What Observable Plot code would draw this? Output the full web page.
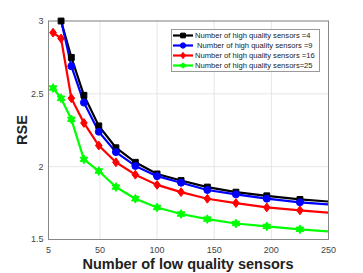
<!DOCTYPE html>
<html>
<head>
<meta charset="utf-8">
<script src="https://cdn.jsdelivr.net/npm/d3@7"></script>
<script src="https://cdn.jsdelivr.net/npm/@observablehq/plot@0.6"></script>
<style>
  html, body { margin: 0; padding: 0; background: #fff; }
  #wrap { position: relative; width: 363px; height: 273px; font-family: "Liberation Sans", Arial, sans-serif; }
  #wrap svg { font-family: "Liberation Sans", Arial, sans-serif; }
  g[aria-label="x-axis tick label"] text, g[aria-label="y-axis tick label"] text { fill: #444; }
  .axlabel { position: absolute; font-weight: bold; font-size: 14.5px; color: #222; white-space: nowrap; }
  #xlabel { left: 0; width: 376px; text-align: center; top: 256px; }
  #ylabel { left: 22px; top: 130px; transform: translate(-50%, -50%) rotate(-90deg); }
  #legend { position: absolute; left: 171px; top: 29px; width: 149px; height: 43px; border: 1px solid #999; background: #fff; box-sizing: border-box; padding-top: 1px; }
  #legend .row { display: flex; align-items: center; height: 9.9px; font-size: 7.6px; color: #222; white-space: pre; }
  #legend svg { flex: none; margin-left: 1px; margin-right: 2px; }
</style>
</head>
<body>
<div id="wrap"></div>
<script>
// Data
const lowSensors = [9, 16, 25, 36, 49, 64, 81, 100, 121, 144, 169, 196, 225, 256];
const rseHigh4  = [3.30, 3.00, 2.75, 2.49, 2.28, 2.13, 2.03, 1.95, 1.905, 1.86, 1.825, 1.80, 1.775, 1.757];
const rseHigh9  = [3.10, 3.005, 2.69, 2.44, 2.24, 2.10, 2.005, 1.935, 1.89, 1.84, 1.81, 1.78, 1.755, 1.737];
const rseHigh16 = [2.92, 2.88, 2.47, 2.30, 2.145, 2.03, 1.945, 1.875, 1.825, 1.78, 1.75, 1.72, 1.70, 1.68];
const rseHigh25 = [2.54, 2.47, 2.325, 2.05, 1.97, 1.86, 1.78, 1.72, 1.675, 1.64, 1.61, 1.59, 1.57, 1.552];
const seriesNames = [
  "Number of high quality sensors =4",
  " Number of high quality sensors =9",
  "Number of high quality sensors =16",
  "Number of high quality sensors=25"
];
const seriesColors = ["#000000", "#0000ff", "#ff0000", "#00ff00"];
const xTicks = [5, 50, 100, 150, 200, 250];
const yTicks = [1.5, 2, 2.5, 3];
const xLabel = "Number of low quality sensors";
const yLabel = "RSE";

// six-pointed star (hexagram) symbol
const hexagram = {
  draw(context, size) {
    const r = Math.sqrt(size / 3);
    const ri = r * 0.58;
    for (let i = 0; i < 12; i++) {
      const a = -Math.PI / 2 + i * Math.PI / 6;
      const rr = i % 2 === 0 ? r : ri;
      const x = rr * Math.cos(a), y = rr * Math.sin(a);
      if (i === 0) context.moveTo(x, y); else context.lineTo(x, y);
    }
    context.closePath();
  }
};
const diamondTall = {
  draw(context, size) {
    const h = Math.sqrt(size / 2.2);
    const w = h * 0.75;
    context.moveTo(0, -h); context.lineTo(w, 0); context.lineTo(0, h); context.lineTo(-w, 0); context.closePath();
  }
};
const seriesSymbols = [d3.symbolSquare, d3.symbolCircle, diamondTall, hexagram];
const seriesSizes = [3.3, 3.5, 3.7, 4.3];

const allSeries = [rseHigh4, rseHigh9, rseHigh16, rseHigh25];
const table = [];
allSeries.forEach((vals, s) => {
  vals.forEach((v, i) => table.push({series: s, x: lowSensors[i], y: v}));
});
const inView = d => d.x <= 250 && d.y <= 3.0001;

const marks = [
  Plot.gridX(xTicks, {stroke: "#e0e0e0", strokeOpacity: 1, strokeWidth: 0.8}),
  Plot.gridY(yTicks, {stroke: "#e0e0e0", strokeOpacity: 1, strokeWidth: 0.8}),
  Plot.frame({stroke: "#888", strokeWidth: 1})
];
allSeries.forEach((vals, s) => {
  const d = table.filter(r => r.series === s);
  marks.push(Plot.line(d, {x: "x", y: "y", stroke: seriesColors[s], strokeWidth: 2.2, clip: true}));
});
allSeries.forEach((vals, s) => {
  const d = table.filter(r => r.series === s && inView(r));
  marks.push(Plot.dot(d, {x: "x", y: "y", symbol: () => seriesSymbols[s], r: seriesSizes[s], fill: seriesColors[s], stroke: seriesColors[s], strokeWidth: 1}));
});

const chart = Plot.plot({
  width: 363,
  height: 273,
  marginLeft: 48,
  marginRight: 35,
  marginTop: 20.5,
  marginBottom: 34,
  style: {fontSize: "9px", background: "#fff"},
  x: {domain: [5, 250], ticks: xTicks, tickSize: 0, tickPadding: 7, label: null},
  y: {domain: [1.5, 3], ticks: yTicks, tickSize: 0, tickPadding: 5, tickFormat: d3.format("~g"), label: null},
  symbol: {type: "identity"},
  marks
});
const wrap = document.getElementById("wrap");
wrap.appendChild(chart);

const xl = document.createElement("div");
xl.id = "xlabel"; xl.className = "axlabel"; xl.textContent = xLabel;
wrap.appendChild(xl);
const yl = document.createElement("div");
yl.id = "ylabel"; yl.className = "axlabel"; yl.textContent = yLabel;
wrap.appendChild(yl);

// Legend
const legend = document.createElement("div");
legend.id = "legend";
seriesNames.forEach((name, s) => {
  const row = document.createElement("div");
  row.className = "row";
  const sw = d3.create("svg").attr("width", 20).attr("height", 9);
  sw.append("line").attr("x1", 0).attr("x2", 20).attr("y1", 4.5).attr("y2", 4.5).attr("stroke", seriesColors[s]).attr("stroke-width", 2.2);
  sw.append("path").attr("transform", "translate(10,4.5)").attr("d", d3.symbol(seriesSymbols[s], 22)()).attr("fill", seriesColors[s]).attr("stroke", seriesColors[s]);
  row.appendChild(sw.node());
  const t = document.createElement("span");
  t.textContent = name;
  row.appendChild(t);
  legend.appendChild(row);
});
wrap.appendChild(legend);
</script>
</body>
</html>
